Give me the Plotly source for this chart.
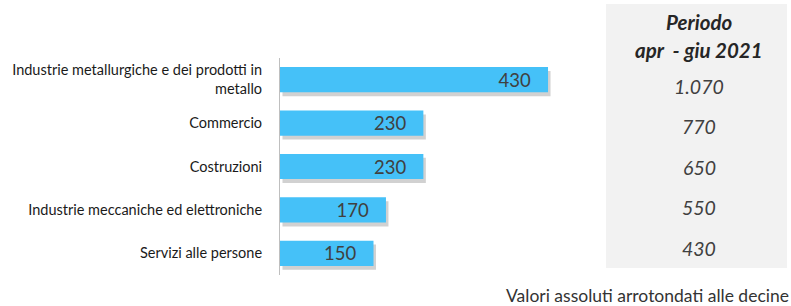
import plotly.graph_objects as go

# ---- data ----
categories = [
    "Industrie metallurgiche e dei prodotti in<br>metallo",
    "Commercio",
    "Costruzioni",
    "Industrie meccaniche ed elettroniche",
    "Servizi alle persone",
]
values = [430, 230, 230, 170, 150]
period_header = ["<b><i>Periodo</i></b>", "<b><i>apr  - giu 2021</i></b>"]
period_values = ["1.070", "770", "650", "550", "430"]
footnote = "Valori assoluti arrotondati alle decine"

# ---- layout constants (pixels) ----
W, H = 791, 306
L, R, T, B = 280, 211, 58, 31
plot_w = W - L - R
plot_h = H - T - B
px_per_unit = 0.6233
x_max = plot_w / px_per_unit

def px_to_paper_x(px):
    return (px - L) / plot_w

def py_to_paper_y(py):
    return (H - B - py) / plot_h

FONT = "Lato, Carlito, Calibri, sans-serif"
bar_w = 0.58

fig = go.Figure()
# soft shadow
fig.add_trace(go.Bar(
    y=categories, x=values, base=4, orientation="h",
    width=bar_w, offset=-bar_w / 2 + 0.09,
    marker=dict(color="rgba(90,90,90,0.28)", line=dict(width=0)),
    hoverinfo="skip", showlegend=False,
))
fig.add_trace(go.Bar(
    y=categories, x=values, orientation="h",
    width=bar_w, offset=-bar_w / 2,
    marker=dict(color="#45C1F8", line=dict(width=0)),
    text=[f"{v}\u00a0\u00a0\u00a0" for v in values],
    textposition="inside", insidetextanchor="end", constraintext="none",
    textfont=dict(family=FONT, size=18.5, color="#404040"),
    showlegend=False,
))

shapes = [dict(
    type="rect", xref="paper", yref="paper",
    x0=px_to_paper_x(606), x1=px_to_paper_x(787),
    y0=py_to_paper_y(268), y1=py_to_paper_y(4),
    fillcolor="#F2F2F2", line=dict(width=0), layer="below",
)]

annotations = []
cx = px_to_paper_x(699)
for txt, py in zip(period_header, [22, 50]):
    annotations.append(dict(
        text=txt, x=cx, y=py_to_paper_y(py), xref="paper", yref="paper",
        xanchor="center", yanchor="middle", showarrow=False,
        font=dict(family=FONT, size=20.5, color="#262626"),
    ))
for i, txt in enumerate(period_values):
    annotations.append(dict(
        text=f"<i>{txt}</i>", x=cx, y=py_to_paper_y(86 + 40.5 * i),
        xref="paper", yref="paper", xanchor="center", yanchor="middle",
        showarrow=False, font=dict(family=FONT, size=19.5, color="#404040"),
    ))
annotations.append(dict(
    text=footnote, x=px_to_paper_x(789), y=py_to_paper_y(H),
    xref="paper", yref="paper", xanchor="right", yanchor="bottom",
    showarrow=False, borderpad=0, borderwidth=0,
    font=dict(family=FONT, size=17.5, color="#333333"),
))

fig.update_layout(
    width=W, height=H,
    margin=dict(l=L, r=R, t=T, b=B, pad=0),
    paper_bgcolor="white", plot_bgcolor="white",
    barmode="overlay",
    xaxis=dict(range=[0, x_max], visible=False, fixedrange=True),
    yaxis=dict(
        autorange="reversed", showline=True, linecolor="#BFBFBF", linewidth=1,
        showgrid=False, ticks="", ticklabelstandoff=14,
        tickfont=dict(family=FONT, size=14.5, color="#1a1a1a"),
        fixedrange=True,
    ),
    shapes=shapes, annotations=annotations,
)

fig.write_html(
    "out.html",
    config={"displayModeBar": False},
    post_script="document.body.style.margin='0px';document.body.style.overflow='hidden';",
)
